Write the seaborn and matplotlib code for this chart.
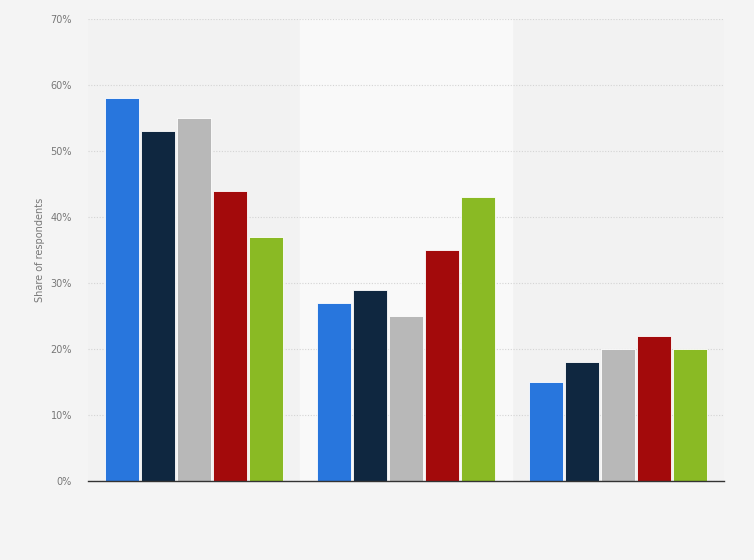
import pandas as pd
import seaborn as sns
import matplotlib.pyplot as plt
from matplotlib.ticker import FuncFormatter

# Gruppen und Serien (keine sichtbaren Beschriftungen im Original)
groups = ['Group 1', 'Group 2', 'Group 3']
series = ['Series 1', 'Series 2', 'Series 3', 'Series 4', 'Series 5']
values_s1 = [58, 27, 15]
values_s2 = [53, 29, 18]
values_s3 = [55, 25, 20]
values_s4 = [44, 35, 22]
values_s5 = [37, 43, 20]
y_ticks = [0, 10, 20, 30, 40, 50, 60, 70]

colors = ['#2876dd', '#0f2740', '#b8b8b8', '#a30a0b', '#8aba24']

all_vals = [values_s1, values_s2, values_s3, values_s4, values_s5]
rows = []
for s, vals in zip(series, all_vals):
    for g, v in zip(groups, vals):
        rows.append({'group': g, 'series': s, 'value': v})
df = pd.DataFrame(rows)

sns.set_style('white')
plt.rcParams['font.family'] = ['DejaVu Sans']

fig = plt.figure(figsize=(7.54, 5.60), dpi=100)
fig.patch.set_facecolor('#f4f4f4')
ax = fig.add_axes([0.1167, 0.141, 0.8433, 0.825])
ax.set_facecolor('#f2f2f2')

# hellerer Streifen hinter der mittleren Gruppe
ax.axvspan(0.5, 1.5, color='#f9f9f9', zorder=0)

sns.barplot(data=df, x='group', y='value', hue='series', palette=colors,
            saturation=1, width=0.85, gap=0.06, edgecolor='white', linewidth=0.6,
            legend=False, ax=ax, zorder=3)

ax.set_xlim(-0.5, 2.5)
ax.set_ylim(0, 70)
ax.set_yticks(y_ticks)
ax.yaxis.set_major_formatter(FuncFormatter(lambda v, p: f'{int(v)}%'))
ax.grid(axis='y', color='#d4d4d4', linestyle=(0, (1, 1.5)), linewidth=0.8, zorder=1)
ax.set_axisbelow(True)

ax.tick_params(axis='y', labelsize=7, colors='#777777', length=0, pad=11.5)
ax.tick_params(axis='x', length=0)
ax.set_xticklabels([])
ax.set_xlabel('')
ax.set_ylabel('Share of respondents', fontsize=7, color='#777777', labelpad=4)

for side in ['top', 'right', 'left']:
    ax.spines[side].set_visible(False)
ax.spines['bottom'].set_color('#333333')
ax.spines['bottom'].set_linewidth(1)
ax.spines['bottom'].set_zorder(5)

plt.savefig('out.png', dpi=100, facecolor=fig.get_facecolor())
